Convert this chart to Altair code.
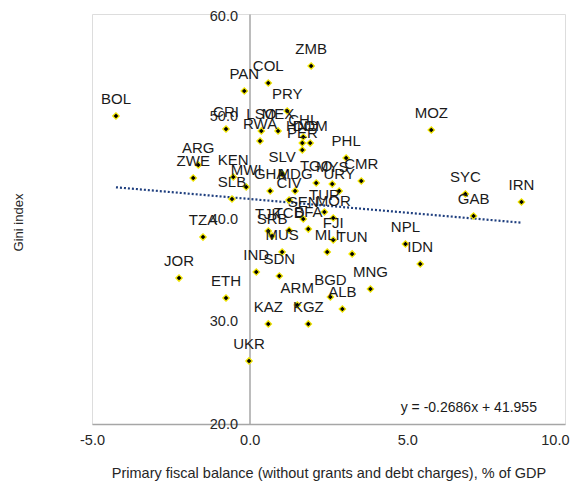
import altair as alt
import pandas as pd

# Country codes, primary fiscal balance (% of GDP) and Gini index
codes = ["BOL", "ZMB", "COL", "PAN", "PRY", "CRI", "LSO", "MEX", "RWA", "CHL",
         "HND", "DOM", "PER", "MOZ", "PHL", "ARG", "ZWE", "KEN", "MWI", "SLB",
         "SLV", "GHA", "MDG", "CIV", "TGO", "MYS", "URY", "CMR", "TUR", "SEN",
         "MOR", "BFA", "TJK", "TCD", "SRB", "FJI", "MUS", "MLI", "TUN", "IND",
         "SDN", "JOR", "ETH", "ARM", "BGD", "ALB", "MNG", "KAZ", "KGZ", "UKR",
         "TZA", "NPL", "IDN", "SYC", "GAB", "IRN"]
balance = [-4.24, 1.95, 0.59, -0.17, 1.19, -0.75, 0.37, 0.90, 0.33, 1.70,
           1.67, 1.92, 1.67, 5.76, 3.06, -1.63, -1.79, -0.52, -0.11, -0.56,
           1.03, 0.65, 1.44, 1.25, 2.11, 2.62, 2.84, 3.54, 2.37, 1.70,
           2.65, 1.86, 0.59, 1.25, 0.71, 2.65, 1.03, 2.46, 3.25, 0.21,
           0.94, -2.24, -0.75, 1.51, 2.56, 2.94, 3.83, 0.59, 1.86, -0.02,
           -1.48, 4.94, 5.41, 6.84, 7.10, 8.62]
gini = [50.05, 54.93, 53.27, 52.49, 50.54, 48.78, 48.59, 48.59, 47.61, 48.00,
        47.41, 47.41, 46.73, 48.68, 45.95, 45.27, 44.00, 44.10, 43.12, 41.95,
        44.39, 42.73, 42.73, 41.85, 43.51, 43.41, 42.73, 43.71, 40.68, 40.00,
        40.10, 39.02, 38.83, 38.90, 38.34, 37.95, 36.78, 36.78, 36.59, 34.83,
        34.44, 34.24, 32.29, 31.61, 32.39, 31.22, 33.17, 29.76, 29.76, 26.15,
        38.24, 37.56, 35.61, 42.44, 40.29, 41.66]

# Linear trend shown on the chart
slope = -0.2686
intercept = 41.955
equation = "y = -0.2686x + 41.955"
eq_pos_x = [6.95]
eq_pos_y = [21.6]

x_ticks = [-5, 0, 5, 10]
y_ticks = [20, 30, 40, 50, 60]

df = pd.DataFrame({"code": codes, "bal": balance, "gini": gini})
xmin, xmax = min(balance), max(balance)
trend = pd.DataFrame({"bal": [xmin, xmax],
                      "gini": [slope * xmin + intercept, slope * xmax + intercept]})
eq_df = pd.DataFrame({"bal": eq_pos_x, "gini": eq_pos_y, "t": [equation]})

FONT = "Liberation Sans"
W, H = 473, 410

xscale = alt.Scale(domain=[-5, 10], nice=False, zero=False)
yscale = alt.Scale(domain=[20, 60], nice=False, zero=False)

xaxis = alt.Axis(values=x_ticks, grid=False, ticks=False, labelFlush=False,
                 labelExpr="datum.value < 0 ? '-' + format(-datum.value, '.1f') : format(datum.value, '.1f')",
                 labelAlign={"condition": {"test": "datum.value >= 10", "value": "right"},
                             "value": "center"},
                 labelOffset={"condition": {"test": "datum.value >= 10", "value": 4},
                              "value": 0},
                 domainColor="#a6a6a6", domainWidth=1.5, labelPadding=9,
                 labelFontSize=14.5, labelColor="#262626", labelFont=FONT,
                 title="Primary fiscal balance (without grants and debt charges), % of GDP",
                 titleFont=FONT, titleFontSize=14.5, titleFontWeight="normal",
                 titleColor="#262626", titlePadding=20)
yaxis = alt.Axis(values=y_ticks, format=".1f", grid=False, ticks=False, labelFlush=False,
                 labelOffset={"condition": {"test": "datum.value >= 60", "value": 2},
                              "value": 0},
                 domainColor="#a6a6a6", domainWidth=1.5, labelPadding=12,
                 labelFontSize=14.5, labelColor="#262626", labelFont=FONT,
                 offset=-157.5,
                 title="Gini index", titleFont=FONT, titleFontSize=13,
                 titleFontWeight="normal", titleColor="#262626",
                 titleX=-231, titleY=208, titleAlign="center", titleBaseline="middle",
                 titleAngle=270)

base = alt.Chart(df)

line = alt.Chart(trend).mark_line(color="#1f3f7f", strokeWidth=2.2, strokeDash=[2, 2]).encode(
    x=alt.X("bal:Q", scale=xscale, axis=xaxis),
    y=alt.Y("gini:Q", scale=yscale, axis=yaxis),
)

pts = base.mark_point(shape="diamond", filled=True, fill="black", stroke="#f2e600",
                      strokeWidth=1.2, size=42, opacity=1).encode(
    x=alt.X("bal:Q", scale=xscale),
    y=alt.Y("gini:Q", scale=yscale),
)

labels = base.mark_text(font=FONT, fontSize=15, color="#1a1a1a", dy=-17,
                        align="center", baseline="middle").encode(
    x=alt.X("bal:Q", scale=xscale),
    y=alt.Y("gini:Q", scale=yscale),
    text="code:N",
)

eq = alt.Chart(eq_df).mark_text(font=FONT, fontSize=14, color="#1a1a1a",
                                align="center", baseline="middle").encode(
    x=alt.X("bal:Q", scale=xscale),
    y=alt.Y("gini:Q", scale=yscale),
    text="t:N",
)

chart = alt.layer(line, pts, labels, eq).properties(
    width=W, height=H,
    autosize=alt.AutoSizeParams(type="none"),
    padding={"left": 84, "top": 6, "right": 5, "bottom": 62},
).configure_view(stroke=None).configure(background="white")

chart.save("out.html", embed_options={"renderer": "svg", "actions": False})
